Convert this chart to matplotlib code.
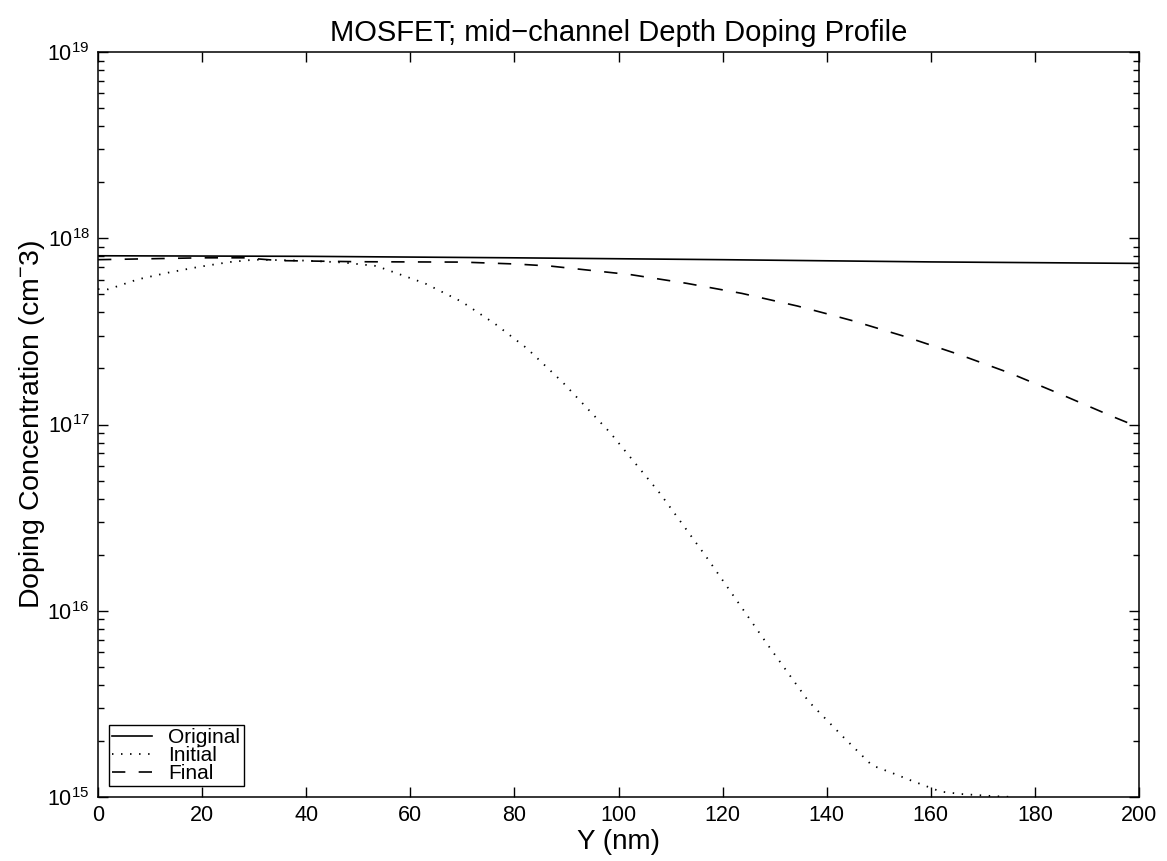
import numpy as np
import matplotlib
matplotlib.use("Agg")
import matplotlib.pyplot as plt
from matplotlib.ticker import LogLocator, MultipleLocator, NullFormatter

plt.rcParams['font.family'] = ['Liberation Sans', 'DejaVu Sans']
plt.rcParams['mathtext.fontset'] = 'custom'
plt.rcParams['mathtext.rm'] = 'Liberation Sans'
plt.rcParams['mathtext.it'] = 'Liberation Sans:italic'
plt.rcParams['mathtext.bf'] = 'Liberation Sans:bold'

# depth (nm) and log10 of doping concentration
y_orig = [0, 40, 80, 120, 160, 200]
log_orig = [17.906, 17.903, 17.895, 17.885, 17.873, 17.865]

y_init = [0, 2, 7.6, 13.4, 19.3, 25.2, 30, 40, 47, 53.5, 62.8, 69.9, 76.3,
          82.4, 89.3, 98.4, 108, 116.8, 124.3, 128.7, 136.5, 143.3, 148.7,
          152.5, 156.1, 161.9, 165.9, 171.9, 176]
log_init = [17.727, 17.726, 17.779, 17.815, 17.846, 17.872, 17.885, 17.88,
            17.87, 17.851, 17.758, 17.659, 17.540, 17.409, 17.226, 16.956,
            16.629, 16.292, 15.992, 15.816, 15.514, 15.319, 15.170, 15.130,
            15.090, 15.029, 15.016, 15.005, 15.0]

y_final = [0, 10, 20, 28, 35, 50, 70, 80, 86.8, 102.5, 113.1, 123.7, 134.4,
           139.7, 145, 155.2, 165.3, 175.3, 185, 195, 200]
log_final = [17.885, 17.89, 17.895, 17.895, 17.88, 17.874, 17.872, 17.862,
             17.851, 17.804, 17.758, 17.704, 17.636, 17.597, 17.557, 17.471,
             17.377, 17.275, 17.162, 17.042, 16.985]

fig = plt.figure(figsize=(11.67, 8.61), dpi=100)
ax = fig.add_axes([0.084, 0.0743, 0.892, 0.8653])

ax.semilogy(y_orig, 10 ** np.array(log_orig), '-', color='black', lw=1.2, label='Original')
ax.semilogy(y_init, 10 ** np.array(log_init), color='black', lw=1.3,
            linestyle=(0, (0.8, 4.2)), label='Initial')
ax.semilogy(y_final, 10 ** np.array(log_final), '--', color='black', lw=1.2,
            dashes=(8, 8), label='Final')

ax.set_xlim(0, 200)
ax.set_ylim(1e15, 1e19)
ax.xaxis.set_major_locator(MultipleLocator(20))
ax.yaxis.set_major_locator(LogLocator(base=10, numticks=10))
ax.yaxis.set_minor_locator(LogLocator(base=10, subs=np.arange(2, 10), numticks=10))
ax.yaxis.set_minor_formatter(NullFormatter())

ax.tick_params(which='both', direction='in', top=True, right=True, labelsize=15.5)
ax.tick_params(which='major', length=7, width=1, pad=6)
ax.tick_params(which='minor', length=4, width=1)
for s in ax.spines.values():
    s.set_linewidth(1.1)

ax.set_title('MOSFET; mid\u2212channel Depth Doping Profile', fontsize=21, pad=8)
ax.set_xlabel('Y (nm)', fontsize=20, labelpad=2)
ax.set_ylabel(r'Doping Concentration (cm$^{-}$3)', fontsize=20.5, labelpad=0)

leg = ax.legend(loc='lower left', bbox_to_anchor=(0.0106, 0.0148), borderaxespad=0,
                fontsize=15, fancybox=False, edgecolor='black', framealpha=1,
                handlelength=1.9, labelspacing=-0.05, borderpad=0.15,
                handletextpad=0.8)
leg.get_frame().set_linewidth(1.0)

fig.savefig('out.png', dpi=100)
